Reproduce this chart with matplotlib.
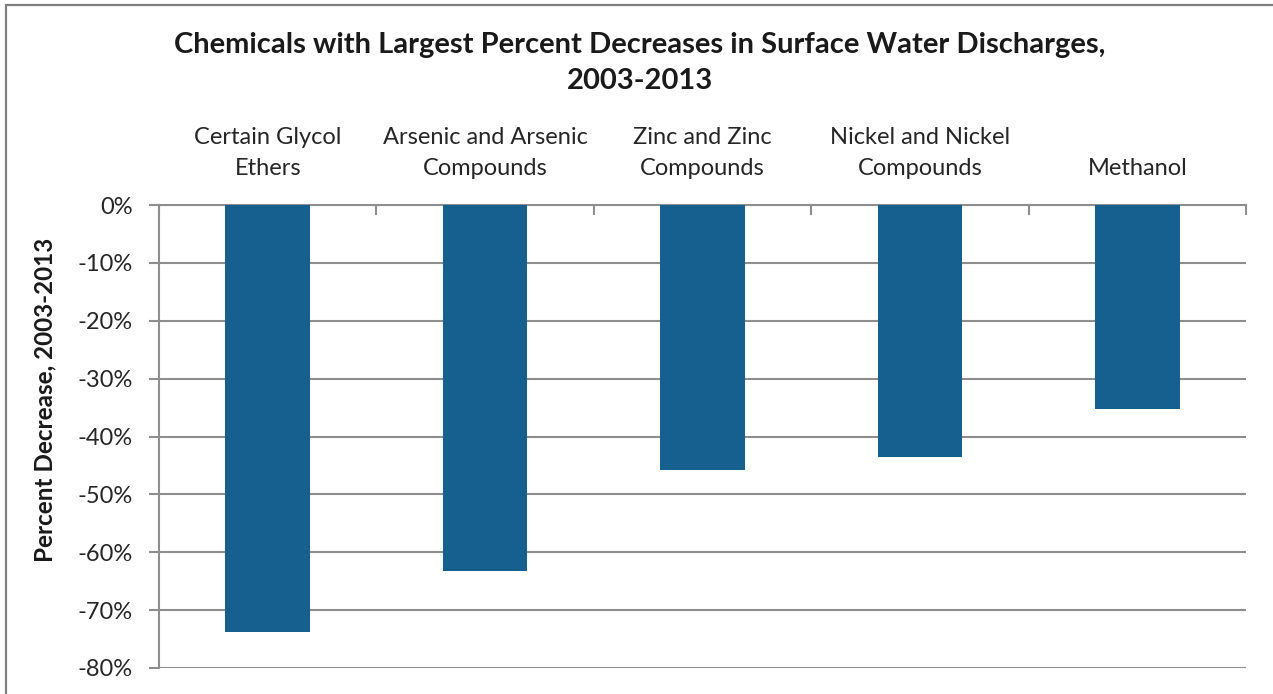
import matplotlib
matplotlib.use('Agg')
import matplotlib.pyplot as plt
from matplotlib.patches import Rectangle
from matplotlib.ticker import PercentFormatter, FixedLocator
import numpy as np

# chemicals and their percent change in surface water discharges, 2003-2013
chemicals = ["Certain Glycol\nEthers", "Arsenic and Arsenic\nCompounds",
             "Zinc and Zinc\nCompounds", "Nickel and Nickel\nCompounds", "Methanol"]
pct_change = [-73.7, -63.2, -45.8, -43.5, -35.2]
y_ticks = [0, -10, -20, -30, -40, -50, -60, -70, -80]

plt.rcParams['font.family'] = ['Lato', 'DejaVu Sans']
plt.rcParams['axes.unicode_minus'] = False
grid_col = '#8e8e8e'
bar_col = '#15608f'

fig = plt.figure(figsize=(12.73, 6.94), dpi=100)
W, H = 1273, 694

# outer chart frame (only top and left edges fall inside the image)
fig.patches.append(Rectangle((6 / W, -0.2), 1.2, 1.2 - 4.5 / H,
                             transform=fig.transFigure, fill=False,
                             edgecolor='#7f7f7f', linewidth=1.6))

ax = fig.add_axes([159 / W, 1 - 668 / H, (1246 - 159) / W, (668 - 205) / H])

x = np.arange(len(chemicals))
ax.bar(x, pct_change, width=0.39, color=bar_col, zorder=3)

ax.set_xlim(-0.5, len(chemicals) - 0.5)
ax.set_ylim(-80, 0)

# gridlines at every 10%
ax.yaxis.set_major_locator(FixedLocator(y_ticks))
ax.yaxis.set_major_formatter(PercentFormatter(decimals=0))
ax.grid(axis='y', color=grid_col, linewidth=1.5, zorder=0)
ax.tick_params(axis='y', length=7, width=1.5, color=grid_col, pad=12,
               labelsize=17, labelcolor='#262626')

# category axis sits at 0% along the top
ax.xaxis.tick_top()
ax.set_xticks(x)
ax.set_xticklabels(chemicals, fontsize=17, color='#262626', linespacing=1.55)
ax.set_xticks(np.arange(len(chemicals) + 1) - 0.5, minor=True)
ax.tick_params(axis='x', which='major', length=0, pad=19)
ax.tick_params(axis='x', which='minor', direction='in', length=7, width=1.5,
               color=grid_col, top=True, bottom=False)

for side in ['right', 'bottom']:
    ax.spines[side].set_visible(False)
for side in ['left', 'top']:
    ax.spines[side].set_color(grid_col)
    ax.spines[side].set_linewidth(1.5)

fig.text(640 / W, 1 - 63 / H,
         "Chemicals with Largest Percent Decreases in Surface Water Discharges,\n2003-2013",
         ha='center', va='center', fontsize=21, fontweight='bold',
         color='#1a1a1a', linespacing=1.45)

fig.text(45 / W, 1 - 400 / H, "Percent Decrease, 2003-2013", rotation=90,
         ha='center', va='center', fontsize=17.5, fontweight='bold', color='#1a1a1a')

fig.savefig('out.png', dpi=100, facecolor='white')
